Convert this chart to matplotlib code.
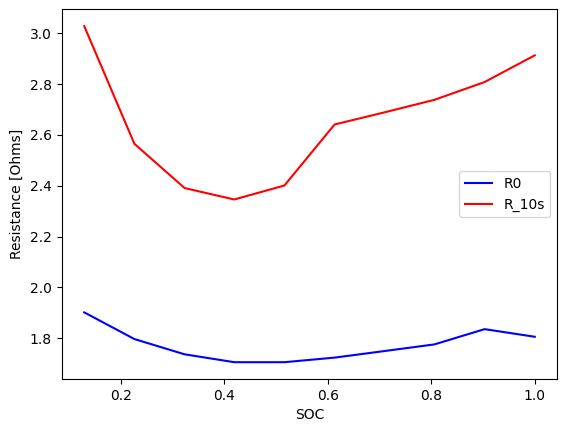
import numpy as np
import matplotlib
matplotlib.use("Agg")
import matplotlib.pyplot as plt

soc = [0.129, 0.226, 0.323, 0.419, 0.516, 0.613, 0.710, 0.806, 0.903, 1.0]
r0 = [1.902, 1.797, 1.737, 1.706, 1.706, 1.724, 1.750, 1.776, 1.836, 1.806]
r10 = [3.028, 2.565, 2.391, 2.346, 2.401, 2.641, 2.689, 2.738, 2.808, 2.913]

fig = plt.figure(figsize=(5.67, 4.32), dpi=100)
fig.subplots_adjust(left=61.7/567, right=557.3/567, top=1-9.3/432, bottom=1-379/432)
ax = fig.add_subplot(111)
ax.plot(soc, r0, color="blue", label="R0")
ax.plot(soc, r10, color="red", label="R_10s")
ax.set_xlabel("SOC")
ax.set_ylabel("Resistance [Ohms]")
ax.legend(loc="center right")
fig.savefig("out.png", dpi=100)
